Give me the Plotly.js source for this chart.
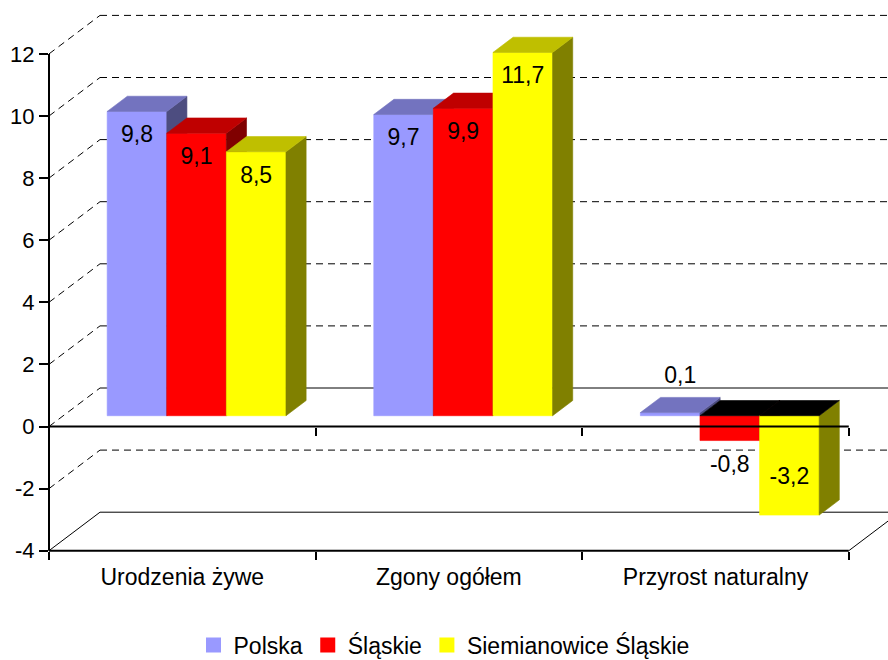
<!DOCTYPE html>
<html><head><meta charset="utf-8">
<script src="https://cdn.plot.ly/plotly-3.0.1.min.js"></script>
<style>html,body{margin:0;padding:0;background:#fff}</style>
</head><body><div id="chart" style="width:888px;height:660px"></div>
<script>
// ---- data ----
const categories = ['Urodzenia żywe', 'Zgony ogółem', 'Przyrost naturalny'];
const seriesNames = ['Polska', 'Śląskie', 'Siemianowice Śląskie'];
const polska = [9.8, 9.7, 0.1];
const slaskie = [9.1, 9.9, -0.8];
const siemianowice = [8.5, 11.7, -3.2];
const yTickValues = [-4, -2, 0, 2, 4, 6, 8, 10, 12];
const yTickLabels = ['-4', '-2', '0', '2', '4', '6', '8', '10', '12'];

// ---- style / geometry ----
const seriesValues = [polska, slaskie, siemianowice];
const frontColors = ['#9999FF', '#FF0000', '#FFFF00'];
const topColors = ['#7373BF', '#BF0000', '#BFBF00'];
const sideColors = ['#4D4D80', '#800000', '#808000'];
const negTopColor = '#000000';
const FONT = 'Liberation Sans, Arial, sans-serif';

const W = 888, H = 660;
const mL = 49, mR = 0, mT = 10, mB = 103;
const plotW = W - mL - mR, plotH = H - mT - mB;
const ZERO_PX = 426.5;          // pixel row of value 0 on the front plane
const PX_Y = 31.05;             // pixels per unit
const CAT_PX = 266.6;           // pixels per category
const yHi = (ZERO_PX - mT) / PX_Y;
const yLo = (ZERO_PX - (H - mB)) / PX_Y;
const xMin = -0.5, xMax = -0.5 + plotW / CAT_PX;
const nCat = categories.length;
const axisMin = yTickValues[0], axisMax = yTickValues[yTickValues.length - 1];

const WALL_DX = 51 / CAT_PX, WALL_DY = 38.5 / PX_Y;
const FRONT_F = 0.28, DEPTH_F = 0.395;
const SHIFT_X = FRONT_F * WALL_DX, BASE = FRONT_F * WALL_DY;
const BDX = DEPTH_F * WALL_DX, BDY = DEPTH_F * WALL_DY;
const BAR_W = 59.6 / CAT_PX;

const fmt = v => v.toFixed(1).replace('.', ',');
const pos = v => (v - yLo) / (yHi - yLo);

function merge(polys) {
  const x = [], y = [];
  polys.forEach((p, k) => {
    if (k) { x.push(null); y.push(null); }
    x.push(...p[0]); y.push(...p[1]);
  });
  return { x, y };
}
function polyTrace(polys, color) {
  const m = merge(polys);
  return { type: 'scatter', mode: 'lines', x: m.x, y: m.y, fill: 'toself',
    fillcolor: color, line: { color: color, width: 0.6 }, hoverinfo: 'skip',
    showlegend: false, xaxis: 'x', yaxis: 'y' };
}

const traces = [];
const lx = [], ly = [], lt = [];
const nS = seriesValues.length;
seriesValues.forEach((vals, s) => {
  const fronts = [], tops = [], negTops = [], sides = [];
  vals.forEach((v, i) => {
    const cx = i + (s - (nS - 1) / 2) * BAR_W + SHIFT_X;
    const x0 = cx - BAR_W / 2, x1 = cx + BAR_W / 2;
    const yb = BASE + Math.min(0, v), yt = BASE + Math.max(0, v);
    fronts.push([[x0, x1, x1, x0, x0], [yb, yb, yt, yt, yb]]);
    sides.push([[x1, x1, x1 + BDX, x1 + BDX, x1], [yb, yt, yt + BDY, yb + BDY, yb]]);
    const top = [[x0, x1, x1 + BDX, x0 + BDX, x0], [yt, yt, yt + BDY, yt + BDY, yt]];
    (v >= 0 ? tops : negTops).push(top);
    // data label
    let ly0, lx0 = cx;
    if (v >= 0 && v >= 2) ly0 = yt - 25 / PX_Y;
    else if (v >= 0) { ly0 = yt + BDY + 20 / PX_Y; lx0 = cx + BDX / 2; }
    else if (v > -2) ly0 = yb - 26 / PX_Y;
    else ly0 = yb + 37 / PX_Y;
    lx.push(lx0); ly.push(ly0); lt.push(fmt(v));
  });
  traces.push(polyTrace(fronts, frontColors[s]));
  traces.push(polyTrace(sides, sideColors[s]));
  if (tops.length) traces.push(polyTrace(tops, topColors[s]));
  if (negTops.length) traces.push(polyTrace(negTops, negTopColor));
});
traces.push({ type: 'scatter', mode: 'text', x: lx, y: ly, text: lt,
  textposition: 'middle center', textfont: { family: FONT, size: 23, color: '#000' },
  cliponaxis: false, hoverinfo: 'skip', showlegend: false });

// legend entries
const legendAxes = ['x2', 'x3', 'x'];
seriesNames.forEach((n, s) => {
  traces.push({ type: 'scatter', mode: 'markers', x: [null], y: [null], name: n,
    marker: { symbol: 'square', size: 15, color: frontColors[s] },
    xaxis: legendAxes[s], yaxis: 'y', hoverinfo: 'skip' });
});

// walls / floor lines
const shapes = [];
yTickValues.forEach(t => {
  const solid = (t === 0 || t === axisMin);
  shapes.push({ type: 'line', layer: 'below', xref: 'x', yref: 'y',
    x0: xMin, y0: t, x1: xMin + WALL_DX, y1: t + WALL_DY,
    line: { color: '#000', width: 1, dash: t === axisMin ? 'solid' : '7px,5px' } });
  shapes.push({ type: 'line', layer: 'below', xref: 'x', yref: 'y',
    x0: xMin + WALL_DX, y0: t + WALL_DY, x1: xMax, y1: t + WALL_DY,
    line: { color: '#000', width: 1, dash: solid ? 'solid' : '7px,5px' } });
});
const xEnd = xMin + nCat;
shapes.push({ type: 'line', layer: 'below', xref: 'x', yref: 'y',
  x0: xEnd, y0: axisMin, x1: xEnd + WALL_DX, y1: axisMin + WALL_DY, line: { color: '#000', width: 1 } });
shapes.push({ type: 'line', layer: 'above', xref: 'x', yref: 'y',
  x0: xMin, y0: axisMin, x1: xEnd, y1: axisMin, line: { color: '#000', width: 2 } });
shapes.push({ type: 'line', layer: 'above', xref: 'x', yref: 'y',
  x0: xMin, y0: 0, x1: xEnd, y1: 0, line: { color: '#000', width: 2 } });
shapes.push({ type: 'line', layer: 'above', xref: 'paper', yref: 'y',
  x0: 0, y0: axisMin, x1: 0, y1: axisMax, line: { color: '#000', width: 2 } });

const boundaries = [];
for (let i = 0; i <= nCat; i++) boundaries.push(xMin + i);
const catCenters = categories.map((c, i) => i);

const baseX = { range: [xMin, xMax], showgrid: false, zeroline: false, showline: false,
  fixedrange: true, automargin: false };
const layout = {
  width: W, height: H,
  margin: { l: mL, r: mR, t: mT, b: mB, pad: 0, autoexpand: false },
  paper_bgcolor: '#fff', plot_bgcolor: '#fff',
  font: { family: FONT, size: 22, color: '#000' },
  showlegend: true,
  legend: { orientation: 'h', xref: 'container', x: 0.5, xanchor: 'center',
    yref: 'container', y: 1 - 645 / H, yanchor: 'middle',
    font: { family: FONT, size: 23, color: '#000' }, bgcolor: 'rgba(0,0,0,0)',
    itemclick: false, itemdoubleclick: false },
  xaxis: Object.assign({}, baseX, { anchor: 'free', position: pos(axisMin),
    tickmode: 'array', tickvals: boundaries, showticklabels: false,
    ticks: 'outside', ticklen: 8, tickwidth: 2, tickcolor: '#000' }),
  xaxis2: Object.assign({}, baseX, { overlaying: 'x', anchor: 'free', position: pos(axisMin),
    side: 'bottom', tickmode: 'array', tickvals: catCenters, ticktext: categories,
    ticks: 'outside', ticklen: 6, tickcolor: 'rgba(0,0,0,0)',
    tickfont: { family: FONT, size: 23, color: '#000' } }),
  xaxis3: Object.assign({}, baseX, { overlaying: 'x', anchor: 'free', position: pos(0),
    side: 'bottom', tickmode: 'array', tickvals: boundaries, showticklabels: false,
    ticks: 'outside', ticklen: 8, tickwidth: 2, tickcolor: '#000' }),
  yaxis: { range: [yLo, yHi], showgrid: false, zeroline: false, showline: false,
    tickmode: 'array', tickvals: yTickValues, ticktext: yTickLabels,
    ticks: 'outside', ticklen: 9, tickwidth: 2, tickcolor: '#000', automargin: false,
    tickfont: { family: FONT, size: 22, color: '#000' }, fixedrange: true },
  shapes: shapes
};
Plotly.newPlot('chart', traces, layout, { displayModeBar: false, staticPlot: true });
</script></body></html>
